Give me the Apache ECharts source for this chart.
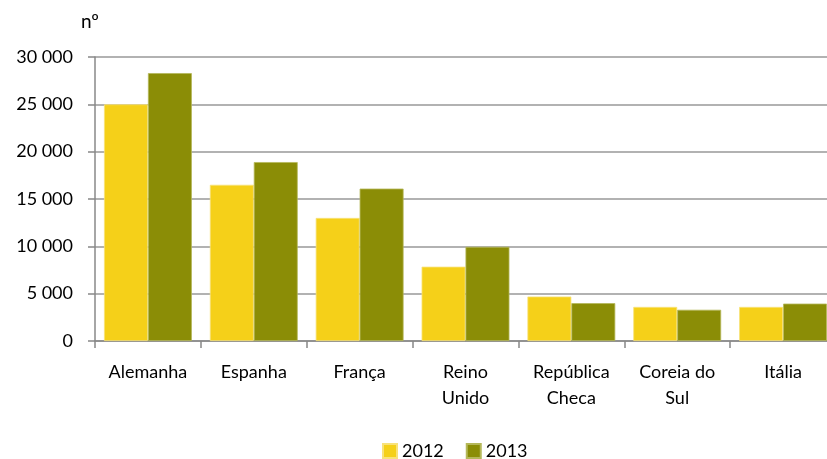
<!DOCTYPE html>
<html><head><meta charset="utf-8">
<script src="https://cdn.jsdelivr.net/npm/echarts@6/dist/echarts.min.js"></script>
<style>html,body{margin:0;padding:0;background:#fff;overflow:hidden}#c{width:836px;height:459px}</style>
</head><body><div id="c"></div>
<script>
const categories = ['Alemanha','Espanha','França','Reino\nUnido','República\nCheca','Coreia do\nSul','Itália'];
const seriesNames = ['2012','2013'];
const values2012 = [25000,16500,13000,7850,4700,3600,3600];
const values2013 = [28300,18900,16100,9950,4000,3300,3950];
const yTicks = {min:0,max:30000,interval:5000};
const font = 'Lato, "Open Sans", sans-serif';
const chart = echarts.init(document.getElementById('c'));
chart.setOption({
  animation:false,
  textStyle:{fontFamily:font},
  grid:{left:95,right:0,top:57,height:284},
  legend:{top:437,left:377,itemWidth:14,itemHeight:14,itemGap:22,icon:'rect',
    textStyle:{fontSize:18,color:'#000',fontFamily:font},data:seriesNames},
  xAxis:{type:'category',data:categories,
    axisLine:{lineStyle:{color:'#888',width:1.5}},
    axisTick:{show:true,length:7,lineStyle:{color:'#888',width:1.5}},
    axisLabel:{color:'#000',fontSize:18,lineHeight:26,margin:18,interval:0,fontFamily:font}},
  yAxis:{type:'value',min:yTicks.min,max:yTicks.max,interval:yTicks.interval,
    name:'nº',nameLocation:'end',nameGap:26,nameTextStyle:{color:'#000',fontSize:19,align:'right',padding:[0,-4,0,0]},
    axisLine:{show:true,lineStyle:{color:'#888',width:1.5}},
    axisTick:{show:true,length:7,lineStyle:{color:'#888',width:1.5}},
    splitLine:{lineStyle:{color:'#999',width:1.5}},
    axisLabel:{color:'#000',fontSize:18,margin:22,fontFamily:font,
      formatter:v=>String(v).replace(/\B(?=(\d{3})+(?!\d))/g,' ')}},
  series:[
    {name:seriesNames[0],type:'bar',data:values2012,barGap:'0%',barCategoryGap:'17%',
      itemStyle:{color:'#F5D019',borderColor:'#F8E27A',borderWidth:0.8}},
    {name:seriesNames[1],type:'bar',data:values2013,barGap:'0%',barCategoryGap:'17%',
      itemStyle:{color:'#8B8D06',borderColor:'#B5B85A',borderWidth:0.8}}
  ]
});
</script></body></html>
